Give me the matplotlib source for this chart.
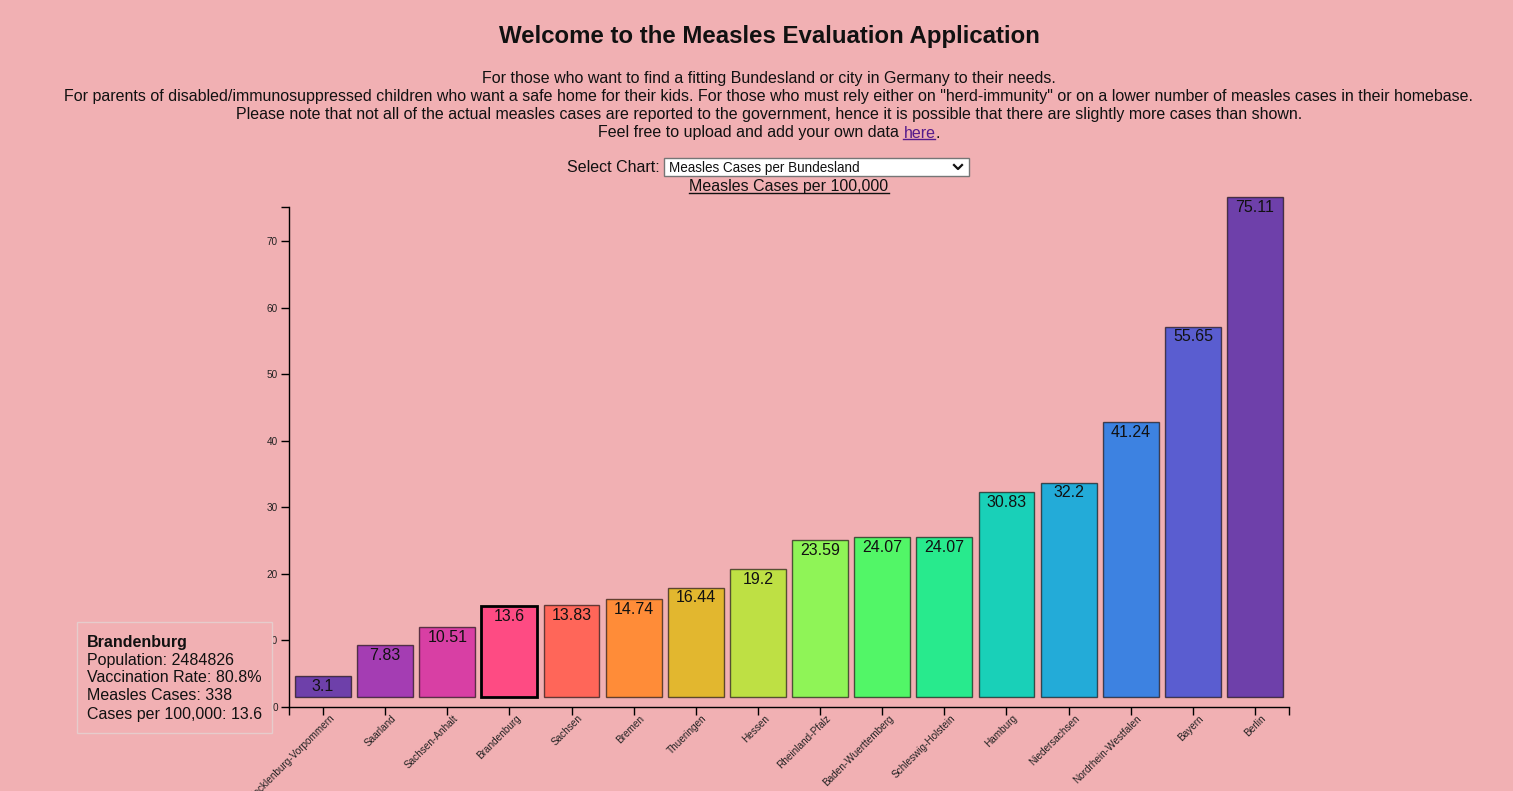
import numpy as np
import matplotlib.pyplot as plt
from matplotlib.patches import Rectangle
from matplotlib.lines import Line2D
from matplotlib.ticker import FixedLocator
from matplotlib.transforms import ScaledTranslation

W, H = 1513, 791
BG = "#f1b0b3"

states = ["Mecklenburg-Vorpommern", "Saarland", "Sachsen-Anhalt", "Brandenburg",
          "Sachsen", "Bremen", "Thueringen", "Hessen", "Rheinland-Pfalz",
          "Baden-Wuerttemberg", "Schleswig-Holstein", "Hamburg", "Niedersachsen",
          "Nordrhein-Westfalen", "Bayern", "Berlin"]
cases_per_100k = [3.1, 7.83, 10.51, 13.6, 13.83, 14.74, 16.44, 19.2, 23.59,
                  24.07, 24.07, 30.83, 32.2, 41.24, 55.65, 75.11]
y_ticks = [0, 10, 20, 30, 40, 50, 60, 70]

highlight = "Brandenburg"
tooltip_lines = ["Population: 2484826", "Vaccination Rate: 80.8%",
                 "Measles Cases: 338", "Cases per 100,000: 13.6"]

intro_lines = [
    "For those who want to find a fitting Bundesland or city in Germany to their needs.",
    "For parents of disabled/immunosuppressed children who want a safe home for their kids. "
    "For those who must rely either on \"herd-immunity\" or on a lower number of measles cases in their homebase.",
    "Please note that not all of the actual measles cases are reported to the government, "
    "hence it is possible that there are slightly more cases than shown.",
]

plt.rcParams['font.family'] = ['Liberation Sans', 'DejaVu Sans']


def rainbow(t):
    # d3.interpolateRainbow (cubehelix)
    t = t - np.floor(t)
    ts = abs(t - 0.5)
    h = np.radians(360 * t - 100 + 120)
    s = 1.5 - 1.5 * ts
    l = 0.8 - 0.9 * ts
    a = s * l * (1 - l)
    r = l + a * (-0.14861 * np.cos(h) + 1.78277 * np.sin(h))
    g = l + a * (-0.29227 * np.cos(h) - 0.90649 * np.sin(h))
    b = l + a * (1.97294 * np.cos(h))
    return tuple(np.clip([r, g, b], 0, 1))


def fx(px):
    return px / W


def fy(py):
    return 1 - py / H


def px_size(p):
    return p * 0.72


fig = plt.figure(figsize=(W / 100, H / 100), dpi=100, facecolor=BG)
renderer = fig.canvas.get_renderer()


def underline(txt, color):
    bb = txt.get_window_extent(renderer)
    y = bb.y0 + 2
    fig.add_artist(Line2D([bb.x0 / W, bb.x1 / W], [y / H, y / H],
                          transform=fig.transFigure, color=color, lw=1))


# header
fig.text(fx(769), fy(37), "Welcome to the Measles Evaluation Application",
         ha='center', va='center', fontsize=px_size(24), fontweight='bold', color='#111')
for i, line in enumerate(intro_lines):
    fig.text(fx(769), fy(79 + 18 * i), line, ha='center', va='center',
             fontsize=px_size(16), color='#111')

# last line with link
parts = [("Feel free to upload and add your own data ", '#111'), ("here", '#551a8b'), (".", '#111')]
txts = [fig.text(0, fy(133), p, ha='left', va='center', fontsize=px_size(16), color=c)
        for p, c in parts]
widths = [t.get_window_extent(renderer).width for t in txts]
x0 = 769 - sum(widths) / 2
for t, w in zip(txts, widths):
    t.set_x(fx(x0))
    x0 += w
underline(txts[1], '#551a8b')

# chart selector
fig.text(fx(660), fy(167), "Select Chart:", ha='right', va='center',
         fontsize=px_size(16), color='#111')
fig.add_artist(Rectangle((fx(664), fy(176)), fx(305), 18 / H, transform=fig.transFigure,
                         facecolor='white', edgecolor='#767676', lw=1))
fig.text(fx(669), fy(168), "Measles Cases per Bundesland", ha='left', va='center',
         fontsize=px_size(13.5), color='#111')
fig.add_artist(Line2D([fx(954), fx(958), fx(962)], [fy(165), fy(169), fy(165)],
                      transform=fig.transFigure, color='#111', lw=1.6))
sub = fig.text(fx(789), fy(187), "Measles Cases per 100,000", ha='center', va='center',
               fontsize=px_size(16), color='#111')
underline(sub, '#111')

# chart
ax = fig.add_axes([fx(289), fy(707), 1000 / W, 500 / H])
ax.set_facecolor('none')
x = np.arange(len(states))
ymax = max(cases_per_100k)
shift = 10 / (500 / ymax)   # bars are drawn 10px above the axis
colors = [rainbow(i / (len(states) - 1)) for i in range(len(states))]

bars = ax.bar(x, cases_per_100k, bottom=shift, width=0.9, color=colors,
              edgecolor=(0, 0, 0, 0.6), linewidth=1, clip_on=False)
for bar, name in zip(bars, states):
    if name == highlight:
        bar.set_edgecolor('black')
        bar.set_linewidth(2)

for xi, v in zip(x, cases_per_100k):
    ax.annotate(str(v), (xi, v + shift), xytext=(0, -2), textcoords='offset points',
                ha='center', va='top', fontsize=px_size(16), color='#111',
                annotation_clip=False)

ax.set_xlim(-0.547, len(states) - 1 + 0.547)
ax.set_ylim(0, ymax)
for side in ['top', 'right']:
    ax.spines[side].set_visible(False)
for side in ['left', 'bottom']:
    ax.spines[side].set_color('black')
    ax.spines[side].set_linewidth(1)

ax.set_yticks(y_ticks)
ax.set_xticks(x, states, rotation=45, ha='right', rotation_mode='anchor')
ax.yaxis.set_minor_locator(FixedLocator([0, ymax]))
ax.xaxis.set_minor_locator(FixedLocator(list(ax.get_xlim())))
ax.tick_params(which='both', direction='out', length=6, width=1, color='black')
ax.tick_params(axis='both', labelsize=px_size(10), labelcolor='#222', pad=2)

offset = ScaledTranslation(6 / 100, 5 / 100, fig.dpi_scale_trans)
for lab in ax.get_xticklabels():
    lab.set_transform(lab.get_transform() + offset)

# tooltip
fig.add_artist(Rectangle((fx(77), fy(733)), fx(195), 111 / H, transform=fig.transFigure,
                         facecolor=BG, edgecolor='#e6cccc', lw=1, zorder=3))
fig.text(fx(87), fy(642), highlight, ha='left', va='center', fontsize=px_size(16),
         fontweight='bold', color='#111', zorder=4)
for i, line in enumerate(tooltip_lines):
    fig.text(fx(87), fy(660 + 18 * i), line, ha='left', va='center',
             fontsize=px_size(16), color='#111', zorder=4)

fig.savefig("out.png", dpi=100, facecolor=BG)
